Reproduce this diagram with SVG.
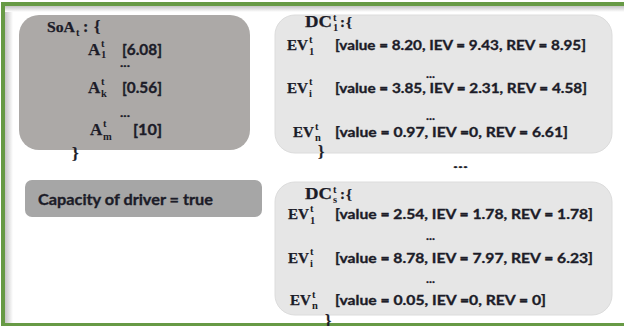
<svg xmlns="http://www.w3.org/2000/svg" width="624" height="326" viewBox="0 0 624 326">
<defs>
<linearGradient id="shL" x1="0" y1="0" x2="1" y2="0"><stop offset="0" stop-color="#c4c4c4"/><stop offset="1" stop-color="#ffffff"/></linearGradient>
<linearGradient id="shT" x1="0" y1="0" x2="0" y2="1"><stop offset="0" stop-color="#c4c4c4"/><stop offset="1" stop-color="#ffffff"/></linearGradient>
</defs>
<style>
.m{font-family:"Liberation Serif","DejaVu Serif",serif;font-weight:bold;fill:#1c1c28;stroke:#1c1c28;stroke-width:0.25}
.s{font-family:"Liberation Serif","DejaVu Serif",serif;font-weight:bold;fill:#1c1c28;font-size:10.5px}
.t{font-family:Lato,"Liberation Sans",sans-serif;font-weight:bold;fill:#1c1c28;stroke:#1c1c28;stroke-width:0.35}
.d{font-family:Lato,"Liberation Sans",sans-serif;font-weight:bold;fill:#1c1c28;stroke:#1c1c28;stroke-width:0.3;font-size:11px}
.dk{fill:#aca9a7}
.lt{fill:#e6e6e6;stroke:#dcdcdc;stroke-width:1}
.cp{fill:#a6a6a6}
</style>
<rect x="0" y="0" width="624" height="326" fill="#ffffff"/>
<rect x="5" y="6" width="8" height="318" fill="url(#shL)"/>
<rect x="5" y="6" width="619" height="6" fill="url(#shT)"/>
<rect x="1" y="2" width="623" height="4" fill="#679a45"/>
<rect x="1" y="2" width="4" height="324" fill="#679a45"/>
<rect x="1" y="323" width="623" height="3" fill="#679a45"/>

<g id="soa">
<rect class="dk" x="19" y="15" width="231" height="135" rx="20"/>
<text class="m" x="47" y="32" font-size="15.5" textLength="28" lengthAdjust="spacingAndGlyphs">SoA</text>
<text class="s" x="76" y="36">t</text>
<text class="m" x="83" y="32" font-size="16">:</text>
<text class="m" x="94" y="32" font-size="16">{</text>
<text class="m" x="88" y="55" font-size="17">A</text>
<text class="s" x="101" y="47">t</text>
<text class="s" x="101" y="58">1</text>
<text class="t" x="122" y="55" font-size="16" textLength="40" lengthAdjust="spacingAndGlyphs">[6.08]</text>
<text class="d" x="120" y="67" textLength="10" lengthAdjust="spacingAndGlyphs">...</text>
<text class="m" x="88" y="93" font-size="17">A</text>
<text class="s" x="101" y="85">t</text>
<text class="s" x="101" y="97">k</text>
<text class="t" x="122" y="93" font-size="16" textLength="40" lengthAdjust="spacingAndGlyphs">[0.56]</text>
<text class="d" x="120" y="117" textLength="10" lengthAdjust="spacingAndGlyphs">...</text>
<text class="m" x="90" y="135" font-size="17">A</text>
<text class="s" x="103" y="127">t</text>
<text class="s" x="103" y="140">m</text>
<text class="t" x="133" y="135" font-size="16" textLength="29" lengthAdjust="spacingAndGlyphs">[10]</text>
<text class="m" x="72" y="159" font-size="17">}</text>
</g>

<g id="capacity">
<rect class="cp" x="25" y="180" width="237" height="37" rx="7"/>
<text class="t" x="38" y="205" font-size="16" textLength="175" lengthAdjust="spacingAndGlyphs">Capacity of driver = true</text>
</g>

<g id="dc1">
<rect class="lt" x="275" y="15" width="337" height="138" rx="20"/>
<text class="m" x="305" y="27" font-size="16" textLength="27" lengthAdjust="spacingAndGlyphs">DC</text>
<text class="s" x="333" y="21">t</text>
<text class="s" x="333" y="31">1</text>
<text class="m" x="340" y="27" font-size="15">:</text>
<text class="m" x="346" y="27" font-size="15">{</text>
<text class="m" x="287" y="50" font-size="15" textLength="21" lengthAdjust="spacingAndGlyphs">EV</text>
<text class="s" x="309" y="43">t</text>
<text class="s" x="309" y="55">1</text>
<text class="t" x="335" y="50" font-size="14" textLength="251" lengthAdjust="spacingAndGlyphs">[value = 8.20, IEV = 9.43, REV = 8.95]</text>
<text class="d" x="426" y="78" textLength="9" lengthAdjust="spacingAndGlyphs">...</text>
<text class="m" x="287" y="93" font-size="15" textLength="21" lengthAdjust="spacingAndGlyphs">EV</text>
<text class="s" x="309" y="85">t</text>
<text class="s" x="309" y="97">i</text>
<text class="t" x="335" y="93" font-size="14" textLength="252" lengthAdjust="spacingAndGlyphs">[value = 3.85, IEV = 2.31, REV = 4.58]</text>
<text class="d" x="426" y="120" textLength="9" lengthAdjust="spacingAndGlyphs">...</text>
<text class="m" x="293" y="137" font-size="15" textLength="21" lengthAdjust="spacingAndGlyphs">EV</text>
<text class="s" x="315" y="130">t</text>
<text class="s" x="315" y="141">n</text>
<text class="t" x="335" y="137" font-size="14" textLength="233" lengthAdjust="spacingAndGlyphs">[value = 0.97, IEV =0, REV = 6.61]</text>
<text class="m" x="318" y="157" font-size="16">}</text>
</g>

<text class="d" x="453" y="168" font-size="14" textLength="15" lengthAdjust="spacingAndGlyphs">...</text>

<g id="dcs">
<rect class="lt" x="275" y="182" width="337" height="133" rx="20"/>
<text class="m" x="305" y="199" font-size="16" textLength="27" lengthAdjust="spacingAndGlyphs">DC</text>
<text class="s" x="333" y="193">t</text>
<text class="s" x="333" y="203">s</text>
<text class="m" x="340" y="199" font-size="15">:</text>
<text class="m" x="346" y="199" font-size="15">{</text>
<text class="m" x="288" y="219" font-size="15" textLength="21" lengthAdjust="spacingAndGlyphs">EV</text>
<text class="s" x="310" y="212">t</text>
<text class="s" x="310" y="224">1</text>
<text class="t" x="335" y="219" font-size="14" textLength="258" lengthAdjust="spacingAndGlyphs">[value = 2.54, IEV = 1.78, REV = 1.78]</text>
<text class="d" x="426" y="240" textLength="9" lengthAdjust="spacingAndGlyphs">...</text>
<text class="m" x="288" y="263" font-size="15" textLength="21" lengthAdjust="spacingAndGlyphs">EV</text>
<text class="s" x="310" y="255">t</text>
<text class="s" x="310" y="267">i</text>
<text class="t" x="335" y="263" font-size="14" textLength="258" lengthAdjust="spacingAndGlyphs">[value = 8.78, IEV = 7.97, REV = 6.23]</text>
<text class="d" x="426" y="283" textLength="9" lengthAdjust="spacingAndGlyphs">...</text>
<text class="m" x="290" y="305" font-size="15" textLength="21" lengthAdjust="spacingAndGlyphs">EV</text>
<text class="s" x="312" y="298">t</text>
<text class="s" x="312" y="309">n</text>
<text class="t" x="335" y="305" font-size="14" textLength="211" lengthAdjust="spacingAndGlyphs">[value = 0.05, IEV =0, REV = 0]</text>
<text class="m" x="325" y="326" font-size="16">}</text>
</g>
</svg>
